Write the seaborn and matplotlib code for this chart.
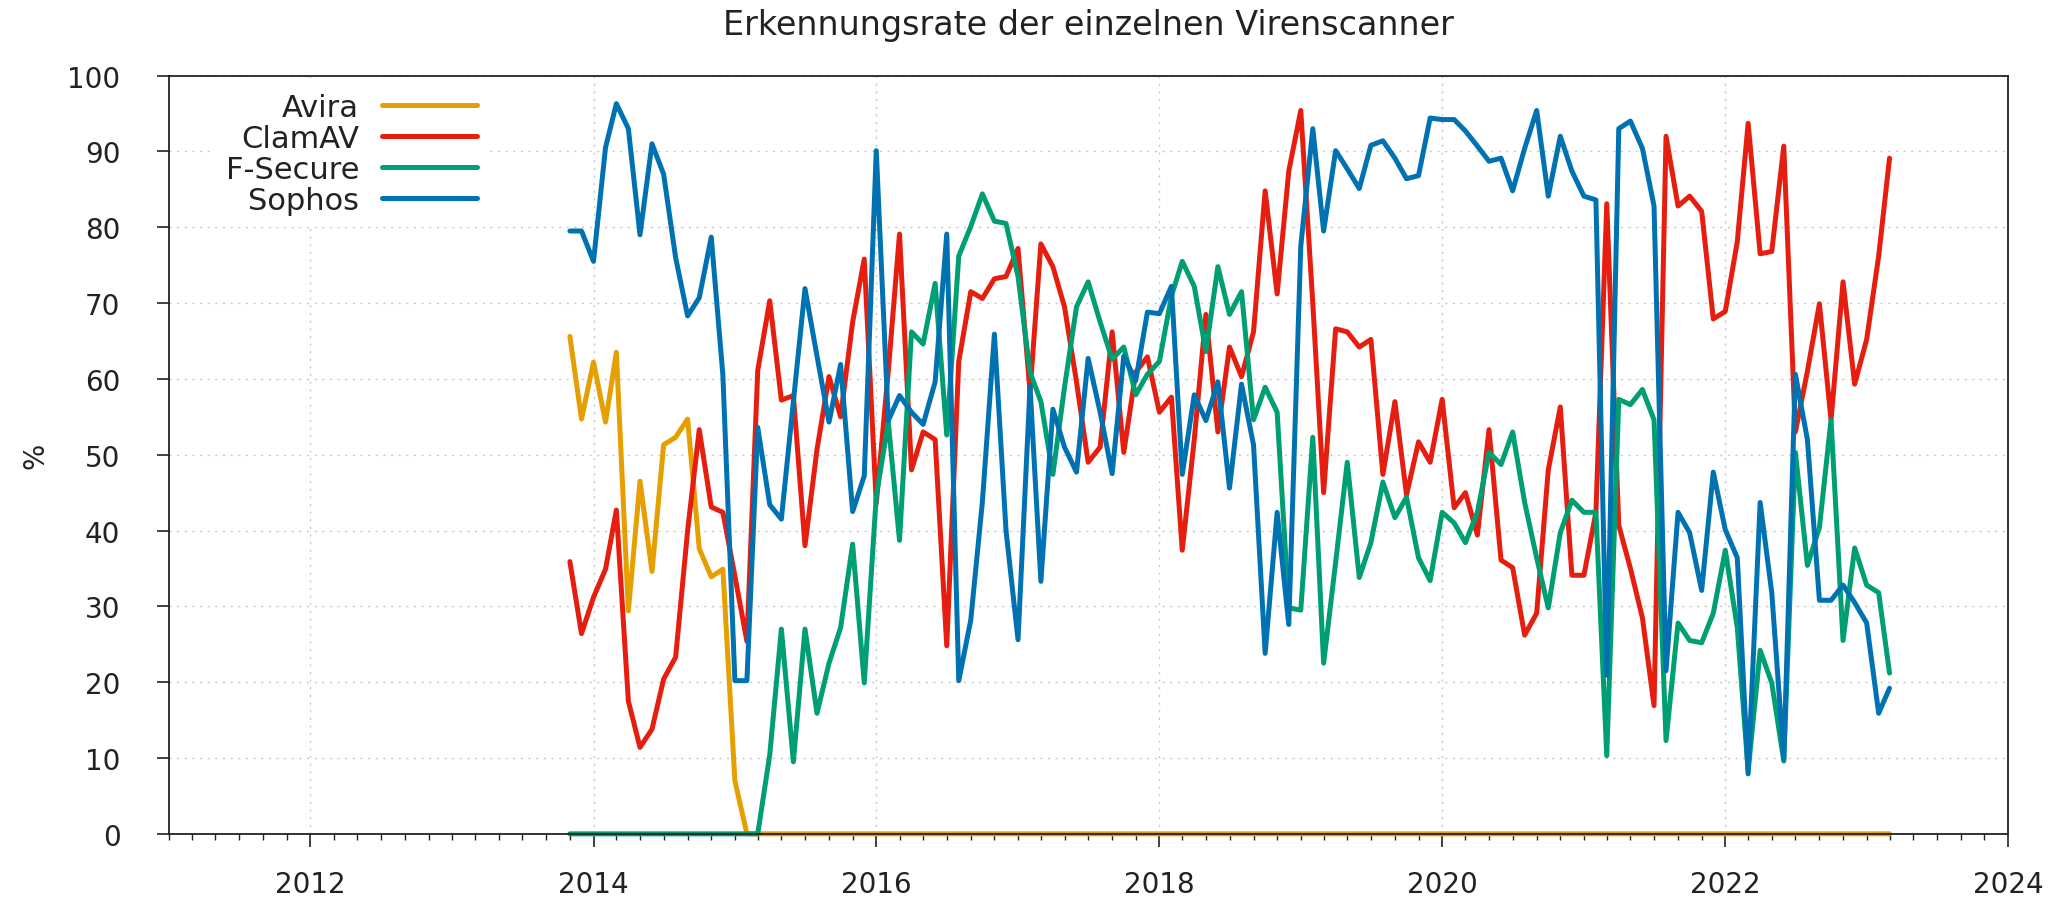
import pandas as pd
import matplotlib
matplotlib.use('Agg')
import matplotlib.pyplot as plt
import matplotlib.dates as mdates
import seaborn as sns

# monthly samples, Nov 2013 .. Mar 2023
months = pd.date_range('2013-11-01', '2023-03-01', freq='MS')

avira = [65.6, 54.7, 62.2, 54.3, 63.5, 29.4, 46.5, 34.6, 51.3, 52.3,
         54.7, 37.6, 33.9, 34.9, 7.0, 0, 0, 0, 0, 0,
         0, 0, 0, 0, 0, 0, 0, 0, 0, 0,
         0, 0, 0, 0, 0, 0, 0, 0, 0, 0,
         0, 0, 0, 0, 0, 0, 0, 0, 0, 0,
         0, 0, 0, 0, 0, 0, 0, 0, 0, 0,
         0, 0, 0, 0, 0, 0, 0, 0, 0, 0,
         0, 0, 0, 0, 0, 0, 0, 0, 0, 0,
         0, 0, 0, 0, 0, 0, 0, 0, 0, 0,
         0, 0, 0, 0, 0, 0, 0, 0, 0, 0,
         0, 0, 0, 0, 0, 0, 0, 0, 0, 0,
         0, 0, 0]

clamav = [35.9, 26.4, 31.2, 34.9, 42.7, 17.5, 11.4, 13.8, 20.4, 23.3,
          40.0, 53.3, 43.1, 42.4, 34.0, 25.4, 61.1, 70.3, 57.2, 57.8,
          38.0, 50.7, 60.3, 55.0, 67.5, 75.8, 43.6, 61.0, 79.1, 48.0,
          53.0, 52.0, 24.8, 62.3, 71.5, 70.6, 73.2, 73.5, 77.2, 58.3,
          77.8, 74.8, 69.5, 59.6, 49.0, 51.0, 66.2, 50.3, 60.9, 62.9,
          55.6, 57.6, 37.4, 52.0, 68.5, 53.0, 64.2, 60.3, 66.2, 84.8,
          71.2, 87.4, 95.4, 70.0, 45.0, 66.6, 66.2, 64.2, 65.2, 47.4,
          57.0, 44.7, 51.7, 49.0, 57.3, 43.0, 45.0, 39.4, 53.3, 36.1,
          35.1, 26.2, 29.1, 48.0, 56.3, 34.1, 34.1, 42.4, 83.1, 40.7,
          35.0, 28.5, 16.9, 92.0, 82.8, 84.1, 82.1, 67.9, 68.9, 78.1,
          93.7, 76.5, 76.8, 90.7, 53.0, 61.0, 69.9, 54.6, 72.8, 59.3,
          65.2, 76.2, 89.1]

fsecure = [0, 0, 0, 0, 0, 0, 0, 0, 0, 0,
           0, 0, 0, 0, 0, 0, 0, 10.4, 27.0, 9.5,
           27.0, 15.9, 22.5, 27.2, 38.2, 19.9, 44.5, 54.3, 38.7, 66.2,
           64.6, 72.6, 52.6, 76.2, 80.1, 84.4, 80.8, 80.5, 73.5, 60.9,
           57.0, 47.4, 58.9, 69.5, 72.8, 67.5, 62.6, 64.2, 57.9, 60.6,
           62.3, 70.9, 75.5, 72.2, 63.6, 74.8, 68.5, 71.5, 54.6, 58.9,
           55.6, 29.8, 29.5, 52.3, 22.5, 35.8, 49.0, 33.8, 38.4, 46.4,
           41.7, 44.4, 36.4, 33.4, 42.4, 41.0, 38.4, 42.4, 50.3, 48.7,
           53.0, 43.7, 36.4, 29.8, 39.7, 44.0, 42.4, 42.4, 10.3, 57.3,
           56.6, 58.6, 54.6, 12.3, 27.8, 25.5, 25.2, 29.1, 37.4, 27.2,
           8.3, 24.2, 19.9, 9.6, 50.3, 35.4, 40.4, 54.6, 25.5, 37.7,
           32.8, 31.8, 21.2]

sophos = [79.5, 79.5, 75.5, 90.5, 96.3, 93.0, 79.0, 91.0, 87.0, 76.0,
          68.3, 70.7, 78.7, 60.5, 20.2, 20.2, 53.6, 43.4, 41.5, 57.0,
          71.9, 63.0, 54.3, 61.9, 42.5, 47.2, 90.1, 54.5, 57.8, 55.6,
          54.0, 59.6, 79.1, 20.2, 28.2, 43.8, 65.9, 40.0, 25.6, 59.0,
          33.3, 56.0, 51.0, 47.7, 62.7, 55.6, 47.5, 63.0, 59.8, 68.8,
          68.6, 72.2, 47.4, 57.9, 54.5, 59.6, 45.6, 59.3, 51.3, 23.8,
          42.4, 27.6, 77.5, 93.0, 79.5, 90.1, 87.7, 85.1, 90.8, 91.4,
          89.1, 86.4, 86.8, 94.4, 94.2, 94.2, 92.7, 90.7, 88.7, 89.1,
          84.8, 90.4, 95.4, 84.1, 92.0, 87.4, 84.1, 83.6, 20.9, 93.0,
          94.0, 90.4, 82.8, 21.5, 42.4, 39.7, 32.1, 47.7, 40.1, 36.4,
          7.9, 43.7, 31.8, 9.9, 60.6, 52.0, 30.8, 30.8, 32.8, 30.5,
          27.8, 15.9, 19.2]

scanner = ['Avira', 'ClamAV', 'F-Secure', 'Sophos']
colors = ['#e69f00', '#e51e10', '#009e73', '#0072b2']

df = pd.DataFrame({'Datum': months, 'Avira': avira, 'ClamAV': clamav,
                   'F-Secure': fsecure, 'Sophos': sophos})
df = df.melt(id_vars='Datum', var_name='Scanner', value_name='Rate')

sns.set_style('ticks')
plt.rcParams['font.family'] = ['DejaVu Sans']
fs = 20      # ticks
fs_leg = 22  # legend
fs_big = 24  # title
lw = 3.6

fig = plt.figure(figsize=(20.71, 9.03), dpi=100)
ax = fig.add_axes([0.0816, 0.0755, 0.8880, 0.8397])

sns.lineplot(data=df, x='Datum', y='Rate', hue='Scanner', hue_order=scanner,
             palette=colors, linewidth=lw, errorbar=None, ax=ax,
             clip_on=False, zorder=3)

ax.set_xlim(pd.Timestamp('2011-01-01'), pd.Timestamp('2024-01-01'))
ax.set_ylim(0, 100)
ax.set_yticks(range(0, 101, 10))
ax.xaxis.set_major_locator(mdates.YearLocator(2))
ax.xaxis.set_major_formatter(mdates.DateFormatter('%Y'))
ax.xaxis.set_minor_locator(mdates.MonthLocator(bymonth=[1, 3, 5, 7, 9, 11]))

ax.grid(True, which='major', color='#c8c8c8', linestyle=(0, (1.5, 4)), linewidth=1.0)
ax.tick_params(axis='both', which='major', direction='out', length=9, width=1.2,
               labelsize=fs, color='#222222', labelcolor='#222222')
ax.tick_params(axis='y', which='major', pad=26)
ax.tick_params(axis='x', which='major', pad=17)
ax.tick_params(axis='x', which='minor', direction='out', length=4.5, width=1.0, color='#222222')
for sp in ax.spines.values():
    sp.set_color('#222222')
    sp.set_linewidth(1.3)
    sp.set_zorder(4)

ax.set_xlabel('')
ax.set_ylabel('%', fontsize=fs, color='#222222')
ax.yaxis.set_label_coords(-0.065, 0.5)
ax.set_title('Erkennungsrate der einzelnen Virenscanner', fontsize=fs_big,
             pad=30, color='#222222')

handles, labels = ax.get_legend_handles_labels()
ax.get_legend().remove()
leg = ax.legend(handles, labels, loc='upper right', bbox_to_anchor=(0.174, 0.993),
                markerfirst=False, fontsize=fs_leg, handlelength=3.1, handletextpad=0.75,
                labelspacing=0.06, borderaxespad=0, frameon=True, fancybox=False,
                facecolor='white', edgecolor='none', framealpha=1)
for line in leg.get_lines():
    line.set_linewidth(lw)
for t in leg.get_texts():
    t.set_color('#222222')

fig.savefig('out.png', dpi=100)
